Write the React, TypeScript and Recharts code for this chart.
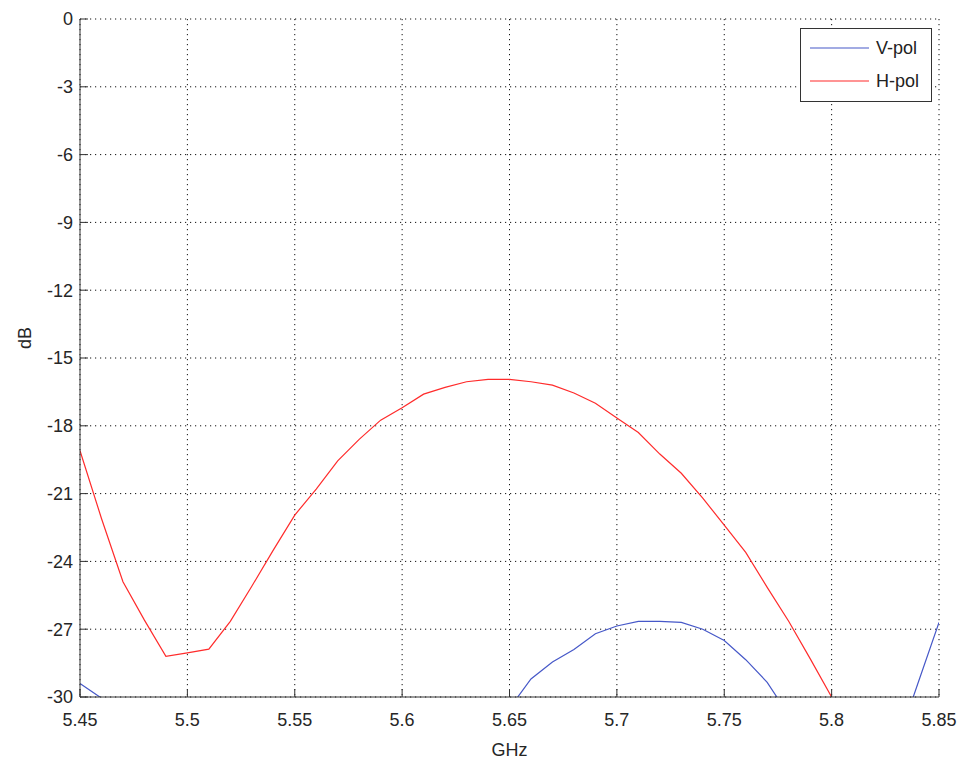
import React from "react";
import {
  LineChart,
  Line,
  XAxis,
  YAxis,
  CartesianGrid,
  Legend,
} from "recharts";

// frequency samples (GHz)
const freq = [
  5.45, 5.46, 5.47, 5.48, 5.49, 5.5, 5.51, 5.52, 5.53, 5.54, 5.55, 5.56, 5.57,
  5.58, 5.59, 5.6, 5.61, 5.62, 5.63, 5.64, 5.65, 5.66, 5.67, 5.68, 5.69, 5.7,
  5.71, 5.72, 5.73, 5.74, 5.75, 5.76, 5.77, 5.78, 5.79, 5.8, 5.81, 5.82, 5.83,
  5.84, 5.85,
];

// V-pol (dB); null where the trace is below the visible range
const vPol = [
  -29.4, -30.05, null, null, null, null, null, null, null, null, null, null,
  null, null, null, null, null, null, null, null, -30.5, -29.2, -28.45, -27.9,
  -27.2, -26.86, -26.65, -26.65, -26.7, -27.0, -27.5, -28.35, -29.35, -30.8,
  null, null, null, null, -32.2, -29.45, -26.7,
];

// H-pol (dB)
const hPol = [
  -19.1, -22.1, -24.9, -26.6, -28.2, -28.05, -27.88, -26.65, -25.1, -23.5,
  -21.95, -20.8, -19.55, -18.6, -17.75, -17.2, -16.6, -16.3, -16.05, -15.95,
  -15.95, -16.05, -16.2, -16.55, -17.0, -17.65, -18.3, -19.25, -20.1, -21.2,
  -22.4, -23.6, -25.15, -26.65, -28.3, -30.0, -31.8, null, null, null, null,
];

const seriesNames = ["V-pol", "H-pol"];
const xTicks = [5.45, 5.5, 5.55, 5.6, 5.65, 5.7, 5.75, 5.8, 5.85];
const yTicks = [-30, -27, -24, -21, -18, -15, -12, -9, -6, -3, 0];

const data = freq.map((f, i) => ({ f, vPol: vPol[i], hPol: hPol[i] }));

const FONT = "'Liberation Sans', Arial, Helvetica, sans-serif";
const AXIS = "#333";
const tickStyle = { fill: "#262626", fontSize: 18, fontFamily: FONT };

const LegendBox = (props: any) => {
  const items = [...(props.payload || [])].sort(
    (a: any, b: any) => seriesNames.indexOf(a.value) - seriesNames.indexOf(b.value)
  );
  return (
    <svg width={132} height={74} style={{ display: "block" }}>
      <rect x={0.5} y={0.5} width={131} height={73} fill="#fff" stroke={AXIS} />
      {items.map((it: any, i: number) => (
        <g key={it.value}>
          <line
            x1={10}
            x2={69}
            y1={20 + i * 33}
            y2={20 + i * 33}
            stroke={it.color}
            strokeWidth={1.2}
          />
          <text
            x={76}
            y={20 + i * 33}
            dominantBaseline="central"
            fontSize={18}
            fontFamily={FONT}
            fill="#222"
          >
            {it.value}
          </text>
        </g>
      ))}
    </svg>
  );
};

const App = () => {
  return (
    <div
      style={{
        position: "absolute",
        left: 0,
        top: 0,
        width: 960,
        height: 770,
        background: "#fff",
      }}
    >
      <LineChart
        width={960}
        height={770}
        data={data}
        margin={{ top: 19, right: 21, bottom: 0, left: 0 }}
      >
        <CartesianGrid
          stroke="#111"
          strokeDasharray="1.2 3.8"
          horizontalValues={yTicks}
          verticalValues={xTicks}
        />
        <XAxis
          dataKey="f"
          type="number"
          domain={[5.45, 5.85]}
          allowDataOverflow
          ticks={xTicks}
          interval={0}
          height={73}
          tickSize={-8}
          tickMargin={24}
          tick={tickStyle}
          stroke={AXIS}
          axisLine={{ stroke: AXIS }}
          tickLine={{ stroke: AXIS }}
          label={{
            value: "GHz",
            position: "insideBottom",
            offset: 14,
            fill: "#262626",
            fontSize: 18,
            fontFamily: FONT,
          }}
        />
        <XAxis
          xAxisId="top"
          dataKey="f"
          type="number"
          orientation="top"
          domain={[5.45, 5.85]}
          allowDataOverflow
          ticks={xTicks}
          interval={0}
          height={0}
          tickSize={-8}
          tick={false}
          axisLine={{ stroke: AXIS }}
          tickLine={{ stroke: AXIS }}
        />
        <YAxis
          type="number"
          domain={[-30, 0]}
          allowDataOverflow
          ticks={yTicks}
          interval={0}
          width={80}
          tickSize={-8}
          tickMargin={15}
          tick={tickStyle}
          axisLine={{ stroke: AXIS }}
          tickLine={{ stroke: AXIS }}
          label={{
            content: () => (
              <text
                x={25}
                y={338}
                transform="rotate(-90 25 338)"
                textAnchor="middle"
                dominantBaseline="central"
                fontSize={18}
                fontFamily={FONT}
                fill="#262626"
              >
                dB
              </text>
            ),
          }}
        />
        <YAxis
          yAxisId="right"
          type="number"
          orientation="right"
          domain={[-30, 0]}
          allowDataOverflow
          ticks={yTicks}
          interval={0}
          width={0}
          tickSize={-8}
          tick={false}
          axisLine={{ stroke: AXIS }}
          tickLine={{ stroke: AXIS }}
        />
        <Legend
          layout="horizontal"
          verticalAlign="middle"
          align="center"
          content={LegendBox}
          wrapperStyle={{ left: 800, top: 28, width: 132, height: 74 }}
        />
        <Line
          type="linear"
          dataKey="vPol"
          name="V-pol"
          stroke="#4658c8"
          strokeWidth={1.2}
          dot={false}
          activeDot={false}
          isAnimationActive={false}
        />
        <Line
          type="linear"
          dataKey="hPol"
          name="H-pol"
          stroke="#ff2b2b"
          strokeWidth={1.2}
          dot={false}
          activeDot={false}
          isAnimationActive={false}
        />
      </LineChart>
    </div>
  );
};

export default App;
